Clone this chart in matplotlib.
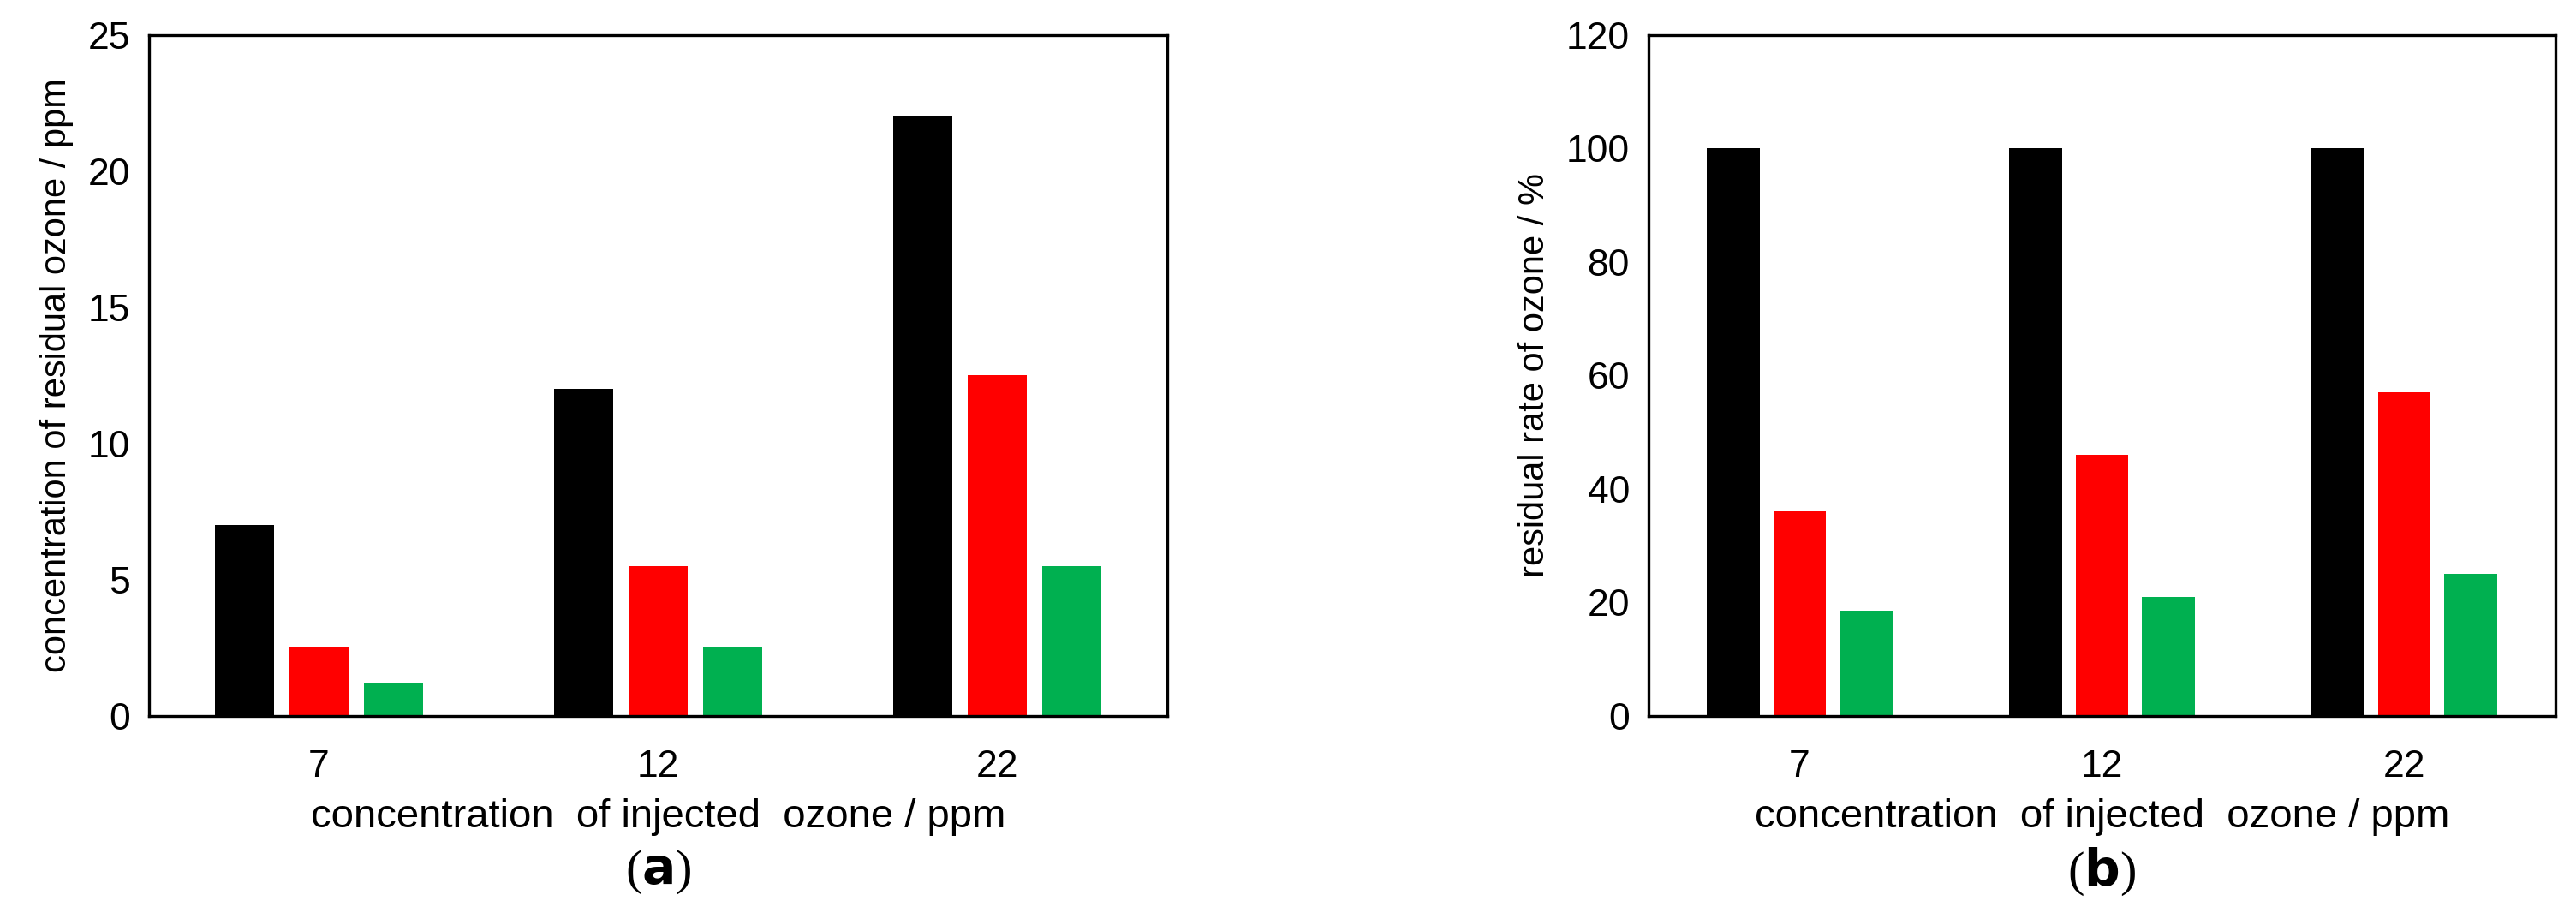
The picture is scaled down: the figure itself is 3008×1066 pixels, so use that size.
import numpy as np
import matplotlib.pyplot as plt

plt.rcParams['font.family'] = ['Liberation Sans', 'DejaVu Sans']

injected = ['7', '12', '22']
residual_black = [7, 12, 22]
residual_red = [2.5, 5.5, 12.5]
residual_green = [1.2, 2.5, 5.5]
rate_black = [100, 100, 100]
rate_red = [36, 46, 57]
rate_green = [18.5, 21, 25]

colors = ['#000000', '#ff0000', '#00b050']

fig = plt.figure(figsize=(15.04, 5.33), dpi=200)
ax1 = fig.add_axes([0.058, 0.216, 0.395, 0.746])
ax2 = fig.add_axes([0.640, 0.216, 0.352, 0.746])

def draw(ax, series, ylim, yticks, ylabel, tag):
    x = np.arange(len(injected))
    w = 0.174
    for i, (vals, c) in enumerate(zip(series, colors)):
        ax.bar(x + (i - 1) * 0.22, vals, w, color=c)
    ax.set_xlim(-0.5, 2.5)
    ax.set_ylim(*ylim)
    ax.set_yticks(yticks)
    ax.set_xticks(x)
    ax.set_xticklabels(injected)
    ax.tick_params(length=0, labelsize=16, pad=8)
    ax.tick_params(axis='x', pad=14)
    for s in ax.spines.values():
        s.set_linewidth(1.2)
    ax.set_xlabel('concentration  of injected  ozone / ppm', fontsize=17, labelpad=6)
    ax.set_ylabel(ylabel, fontsize=15, labelpad=6)
    bb = ax.get_position()
    fig.text((bb.x0 + bb.x1) / 2, 0.045, '(' + tag + ')', ha='center', va='center',
             fontsize=21, family='Liberation Serif')

draw(ax1, [residual_black, residual_red, residual_green], (0, 25), range(0, 26, 5),
     'concentration of residual ozone / ppm', r'$\mathbf{a}$')
draw(ax2, [rate_black, rate_red, rate_green], (0, 120), range(0, 121, 20),
     'residual rate of ozone / %', r'$\mathbf{b}$')

fig.savefig('out.png')
